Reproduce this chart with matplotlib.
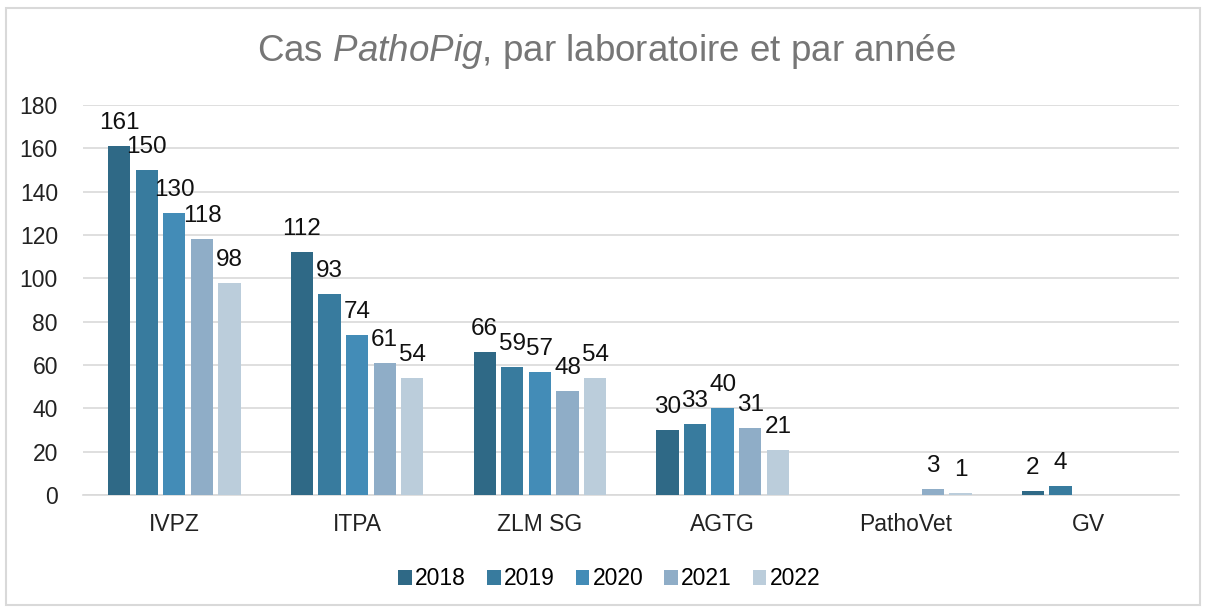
import matplotlib
matplotlib.use("Agg")
import matplotlib.pyplot as plt
import numpy as np
from matplotlib.patches import Rectangle

plt.rcParams['font.family'] = ['Liberation Sans', 'DejaVu Sans']
plt.rcParams['mathtext.fontset'] = 'custom'
plt.rcParams['mathtext.rm'] = 'Liberation Sans'
plt.rcParams['mathtext.it'] = 'Liberation Sans:italic'

labs = ["IVPZ", "ITPA", "ZLM SG", "AGTG", "PathoVet", "GV"]
years = ["2018", "2019", "2020", "2021", "2022"]
# None = no bar / no label
v2018 = [161, 112, 66, 30, None, 2]
v2019 = [150, 93, 59, 33, None, 4]
v2020 = [130, 74, 57, 40, None, None]
v2021 = [118, 61, 48, 31, 3, None]
v2022 = [98, 54, 54, 21, 1, None]
series = [v2018, v2019, v2020, v2021, v2022]
colors = ["#2F6986", "#387B9E", "#438CB7", "#8FADC7", "#BBCDDB"]

fig = plt.figure(figsize=(12.06, 6.07), dpi=100)
ax = fig.add_axes([0.0688, 0.1845, 0.9092, 0.6425])

x = np.arange(len(labs))
step = 0.151
width = 0.122
for i, (vals, col, yr) in enumerate(zip(series, colors, years)):
    xs = x + (i - 2) * step
    h = [v if v is not None else 0 for v in vals]
    ax.bar(xs, h, width=width, color=col, label=yr, zorder=3)
    for xi, v in zip(xs, vals):
        if v is not None:
            ax.text(xi, v + 5.5, str(v), ha="center", va="bottom",
                    fontsize=17.5, color="#111111", zorder=4, clip_on=False)

ax.set_xlim(-0.5, len(labs) - 0.5)
ax.set_ylim(0, 180)
ax.set_yticks(range(0, 181, 20))
ax.set_xticks(x)
ax.set_xticklabels(labs)
ax.tick_params(axis="both", length=0, labelsize=16.5, colors="#222222")
ax.tick_params(axis="x", pad=13)
ax.tick_params(axis="y", pad=18)
ax.grid(axis="y", color="#D9D9D9", linewidth=1.2, zorder=0)
for s in ["top", "right", "left"]:
    ax.spines[s].set_visible(False)
ax.spines["bottom"].set_color("#D9D9D9")
ax.spines["bottom"].set_linewidth(1.2)

fig.text(0.503, 0.915, "Cas $\\mathit{PathoPig}$, par laboratoire et par année",
         ha="center", va="center", fontsize=26.5, color="#767676")

ax.legend(loc="center", bbox_to_anchor=(0.48, -0.215), ncol=5, frameon=False,
          fontsize=16.5, handlelength=0.6, handleheight=0.6, handletextpad=0.15,
          columnspacing=0.9)

fig.patches.append(Rectangle((0.005, 0.004), 0.99, 0.982, transform=fig.transFigure,
                             fill=False, edgecolor="#D9D9D9", linewidth=1.5))

fig.savefig("out.png", dpi=100)
